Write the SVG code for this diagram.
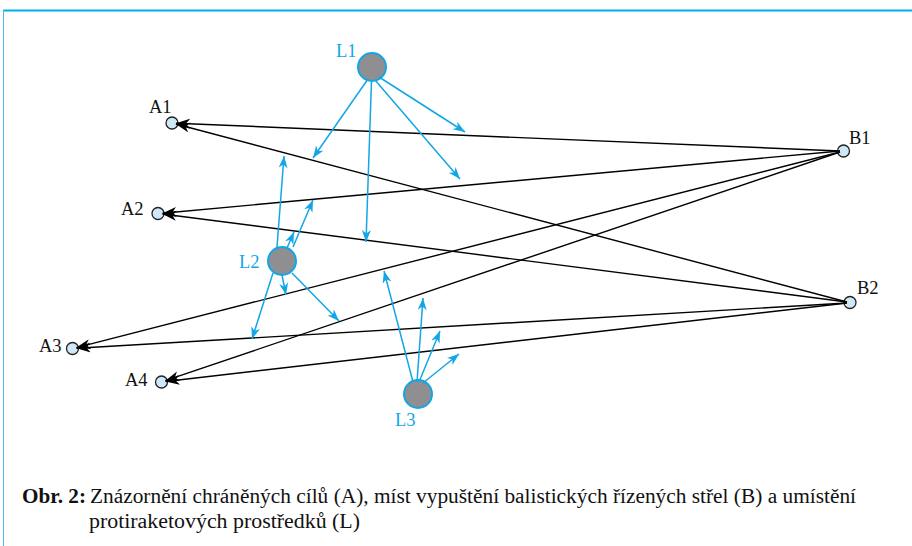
<svg xmlns="http://www.w3.org/2000/svg" width="912" height="546" viewBox="0 0 912 546">
<style>
.lbl{font-family:"Liberation Serif","Times New Roman",serif;font-size:18.5px}
.blk{fill:#111}
.cy{fill:#12a6e6}
.tgt{fill:#cfe7f6;stroke:#222;stroke-width:1.3}
.lnc{fill:#8f8e90;stroke:#12a6e6;stroke-width:2}
.bl{stroke:#000;stroke-width:1.4;fill:none;marker-end:url(#ab)}
.cl{stroke:#12a6e6;stroke-width:1.5;fill:none;marker-end:url(#ac)}
.cap{font-family:"Liberation Serif","Times New Roman",serif;font-size:20px;fill:#111}
</style>
<defs>
<marker id="ab" markerUnits="userSpaceOnUse" markerWidth="15" markerHeight="11" refX="14" refY="5" orient="auto">
<path d="M0,0 L14,5 L0,10 L4,5 z" fill="#000"/>
</marker>
<marker id="ac" markerUnits="userSpaceOnUse" markerWidth="13" markerHeight="10" refX="12" refY="4.5" orient="auto">
<path d="M0,0 L12,4.5 L0,9 L3.5,4.5 z" fill="#12a6e6"/>
</marker>
</defs>
<rect width="912" height="546" fill="#fff"/>
<g id="frame">
<line x1="3" y1="10.5" x2="912" y2="10.5" stroke="#00aeef" stroke-width="2"/>
<line x1="3.5" y1="10" x2="3.5" y2="546" stroke="#4db8ea" stroke-width="1"/>
</g>
<g id="A1"><circle class="tgt" cx="172" cy="123" r="6"/><text class="lbl blk" x="149" y="113">A1</text></g>
<g id="A2"><circle class="tgt" cx="158" cy="213.5" r="6"/><text class="lbl blk" x="121" y="215">A2</text></g>
<g id="A3"><circle class="tgt" cx="72.5" cy="348.5" r="6"/><text class="lbl blk" x="39" y="352">A3</text></g>
<g id="A4"><circle class="tgt" cx="161.5" cy="382" r="6"/><text class="lbl blk" x="125" y="386">A4</text></g>
<g id="B1"><circle class="tgt" cx="843.5" cy="151" r="6"/><text class="lbl blk" x="849" y="144">B1</text></g>
<g id="B2"><circle class="tgt" cx="850" cy="302.5" r="6"/><text class="lbl blk" x="857" y="294">B2</text></g>
<g id="L1"><circle class="lnc" cx="372" cy="67" r="14"/><text class="lbl cy" x="336" y="57">L1</text></g>
<g id="L2"><circle class="lnc" cx="282" cy="261" r="14"/><text class="lbl cy" x="239" y="268">L2</text></g>
<g id="L3"><circle class="lnc" cx="418" cy="394" r="14"/><text class="lbl cy" x="395" y="426">L3</text></g>
<g id="connectors">
<line class="bl" x1="840" y1="151" x2="176" y2="123.2"/>
<line class="bl" x1="847" y1="302" x2="175.9" y2="124"/>
<line class="bl" x1="840" y1="151" x2="162.5" y2="213.2"/>
<line class="bl" x1="847" y1="302" x2="162.5" y2="214"/>
<line class="bl" x1="840" y1="152" x2="76.4" y2="347.6"/>
<line class="bl" x1="847" y1="303" x2="76.5" y2="348.3"/>
<line class="bl" x1="840" y1="152" x2="165.3" y2="380.7"/>
<line class="bl" x1="847" y1="303" x2="165.5" y2="381.5"/>
<line class="cl" x1="368" y1="79" x2="313" y2="158"/>
<line class="cl" x1="371.5" y1="81" x2="366" y2="242"/>
<line class="cl" x1="375" y1="80" x2="460" y2="179"/>
<line class="cl" x1="379" y1="77" x2="465" y2="132"/>
<line class="cl" x1="277" y1="247" x2="284" y2="156"/>
<line class="cl" x1="293" y1="247" x2="313" y2="200"/>
<line class="cl" x1="287" y1="248" x2="294" y2="232"/>
<line class="cl" x1="282" y1="275" x2="286" y2="295"/>
<line class="cl" x1="292" y1="273" x2="339" y2="321"/>
<line class="cl" x1="273" y1="273" x2="252" y2="339"/>
<line class="cl" x1="413" y1="382" x2="384" y2="271"/>
<line class="cl" x1="417" y1="382" x2="423" y2="298"/>
<line class="cl" x1="419" y1="382" x2="440" y2="331"/>
<line class="cl" x1="423" y1="383" x2="459" y2="354"/>
</g>
<g id="caption">
<text class="cap" x="22" y="503" font-weight="bold" textLength="64" lengthAdjust="spacingAndGlyphs">Obr. 2:</text>
<text class="cap" x="90" y="503" textLength="766" lengthAdjust="spacingAndGlyphs">Znázornění chráněných cílů (A), míst vypuštění balistických řízených střel (B) a umístění</text>
<text class="cap" x="89" y="528" textLength="271" lengthAdjust="spacingAndGlyphs">protiraketových prostředků (L)</text>
</g>
</svg>
